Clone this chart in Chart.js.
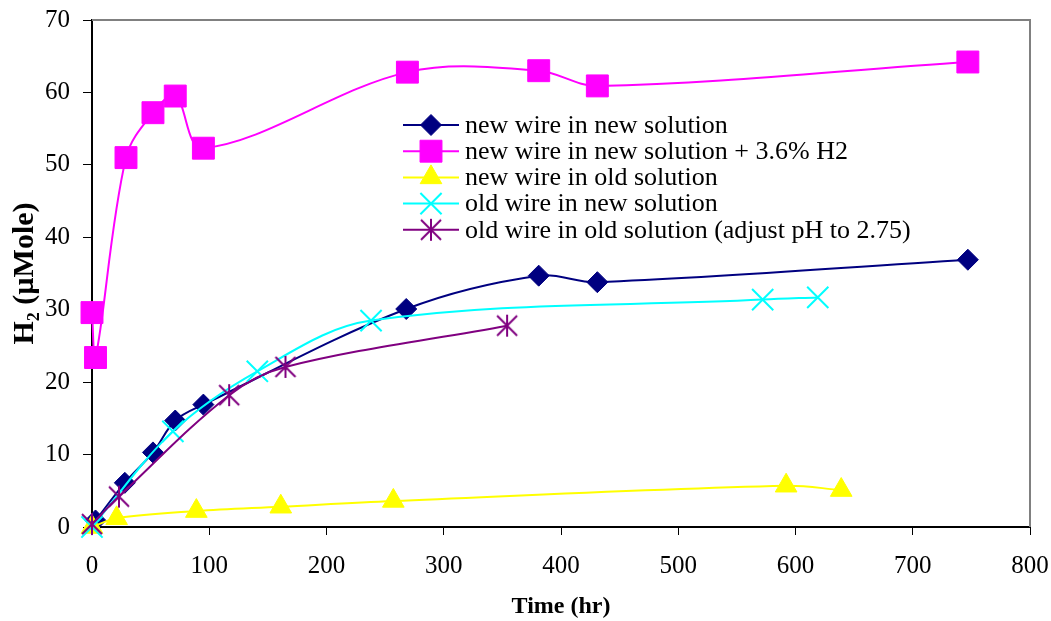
<!DOCTYPE html>
<html>
<head>
<meta charset="utf-8">
<title>H2 vs time</title>
<script src="https://cdn.jsdelivr.net/npm/chart.js@4.4.1/dist/chart.umd.min.js"></script>
<style>
  html, body { margin: 0; padding: 0; background: #fff; }
</style>
</head>
<body>
<canvas id="h2Chart" width="1051" height="621"></canvas>
<script>
// values (time in hr, H2 in µMole)
const newNewTime = [3, 28, 52, 71, 95, 268, 381, 431, 747];
const newNewH2 = [0.9, 6.1, 10.3, 14.7, 16.9, 30.1, 34.7, 33.8, 36.9];

const newNewAddTime = [0, 3, 29, 52, 71, 95, 269, 381, 431, 747];
const newNewAddH2 = [29.6, 23.4, 51.0, 57.2, 59.5, 52.3, 62.8, 63.0, 60.9, 64.2];

const newOldTime = [0, 21, 89, 161, 257, 592, 639];
const newOldH2 = [0, 1.2, 2.2, 2.8, 3.6, 5.7, 5.1];

const oldNewTime = [0, 69, 141, 238, 572, 619];
const oldNewH2 = [0, 13.2, 21.5, 28.5, 31.4, 31.7];

const oldOldTime = [0, 23, 117, 165, 354];
const oldOldH2 = [0.4, 4.2, 18.2, 22.1, 27.8];

const seriesNames = [
  'new wire in new solution',
  'new wire in new solution + 3.6% H2',
  'new wire in old solution',
  'old wire in new solution',
  'old wire in old solution (adjust pH to 2.75)'
];

const timeTicks = [0, 100, 200, 300, 400, 500, 600, 700, 800];
const h2Ticks = [0, 10, 20, 30, 40, 50, 60, 70];

function toPoints(xs, ys) {
  return xs.map((x, i) => ({ x: x, y: ys[i] }));
}

// asterisk marker: vertical bar plus an X
function makeAsterisk(color) {
  const c = document.createElement('canvas');
  c.width = 24; c.height = 24;
  const g = c.getContext('2d');
  g.strokeStyle = color;
  g.lineWidth = 2;
  g.beginPath();
  g.moveTo(12, 1); g.lineTo(12, 23);
  g.moveTo(2, 2); g.lineTo(22, 22);
  g.moveTo(22, 2); g.lineTo(2, 22);
  g.stroke();
  return c;
}

function series(i, xs, ys, color, style, radius, order) {
  return {
    label: seriesNames[i],
    data: toPoints(xs, ys),
    showLine: true,
    borderColor: color,
    borderWidth: 2,
    backgroundColor: color,
    pointBackgroundColor: color,
    pointBorderColor: color,
    pointBorderWidth: (style === 'crossRot') ? 2 : 1,
    pointStyle: style,
    pointRadius: radius,
    pointHoverRadius: radius,
    tension: 0.35,
    clip: false,
    order: order
  };
}

const frameLines = {
  id: 'frameLines',
  afterDraw(chart) {
    const { left, right, top, bottom } = chart.chartArea;
    const ctx = chart.ctx;
    ctx.save();
    ctx.strokeStyle = '#808080';
    ctx.lineWidth = 2;
    ctx.beginPath();
    ctx.moveTo(left, top);
    ctx.lineTo(right, top);
    ctx.lineTo(right, bottom);
    ctx.stroke();
    ctx.restore();
  }
};

const insideLegend = {
  id: 'insideLegend',
  afterDraw(chart) {
    const ctx = chart.ctx;
    const x0 = chart.chartArea.left + 311;
    const y0 = chart.chartArea.top + 105;
    const rowH = 26.2;
    chart.data.datasets.forEach((ds, i) => {
      const y = y0 + i * rowH;
      ctx.save();
      ctx.strokeStyle = ds.borderColor;
      ctx.lineWidth = ds.borderWidth;
      ctx.beginPath();
      ctx.moveTo(x0, y);
      ctx.lineTo(x0 + 56, y);
      ctx.stroke();
      ctx.fillStyle = ds.pointBackgroundColor;
      ctx.strokeStyle = ds.pointBorderColor;
      ctx.lineWidth = ds.pointBorderWidth;
      Chart.helpers.drawPoint(ctx, {
        pointStyle: ds.pointStyle,
        radius: ds.pointRadius,
        borderWidth: ds.pointBorderWidth,
        rotation: 0
      }, x0 + 28, y);
      ctx.fillStyle = '#000';
      ctx.font = '26px "Liberation Serif"';
      ctx.textBaseline = 'middle';
      ctx.textAlign = 'left';
      ctx.fillText(ds.label, x0 + 62, y + 1);
      ctx.restore();
    });
  }
};

Chart.defaults.font.family = '"Liberation Serif", "Times New Roman", serif';
Chart.defaults.color = '#000';

const ctx = document.getElementById('h2Chart').getContext('2d');

new Chart(ctx, {
  type: 'scatter',
  data: {
    datasets: [
      series(0, newNewTime, newNewH2, '#000080', 'rectRot', 10.5, 5),
      series(1, newNewAddTime, newNewAddH2, '#FF00FF', 'rect', 15.5, 4),
      series(2, newOldTime, newOldH2, '#FFFF00', 'triangle', 12.5, 3),
      series(3, oldNewTime, oldNewH2, '#00FFFF', 'crossRot', 15, 2),
      series(4, oldOldTime, oldOldH2, '#800080', makeAsterisk('#800080'), 12, 1)
    ]
  },
  options: {
    responsive: false,
    animation: false,
    layout: { padding: { top: 20, right: 21, left: 0, bottom: 0 } },
    plugins: {
      legend: { display: false },
      tooltip: { enabled: false }
    },
    scales: {
      x: {
        type: 'linear',
        min: 0,
        max: 800,
        afterBuildTicks: (s) => { s.ticks = timeTicks.map(v => ({ value: v })); },
        afterFit: (s) => {
          s.height = 94;
          s.paddingLeft = 0;
          s.paddingRight = 0;
        },
        ticks: { font: { size: 25 }, padding: 16, maxRotation: 0 },
        grid: { drawOnChartArea: false, tickLength: 8, color: '#000', lineWidth: 1 },
        border: { color: '#000', width: 2 },
        title: {
          display: true,
          text: 'Time (hr)',
          font: { size: 24, weight: 'bold' },
          padding: { top: 1, bottom: 0 }
        }
      },
      y: {
        min: 0,
        max: 70,
        afterBuildTicks: (s) => { s.ticks = h2Ticks.map(v => ({ value: v })); },
        afterFit: (s) => {
          s.width = 92;
          s.paddingTop = 0;
          s.paddingBottom = 0;
        },
        ticks: { font: { size: 25 }, padding: 13 },
        grid: { drawOnChartArea: false, tickLength: 9, color: '#000', lineWidth: 1 },
        border: { color: '#000', width: 2 },
        title: {
          display: true,
          text: 'H₂ (µMole)',
          font: { size: 30, weight: 'bold' },
          padding: { top: 7, bottom: 0 }
        }
      }
    }
  },
  plugins: [frameLines, insideLegend]
});
</script>
</body>
</html>
